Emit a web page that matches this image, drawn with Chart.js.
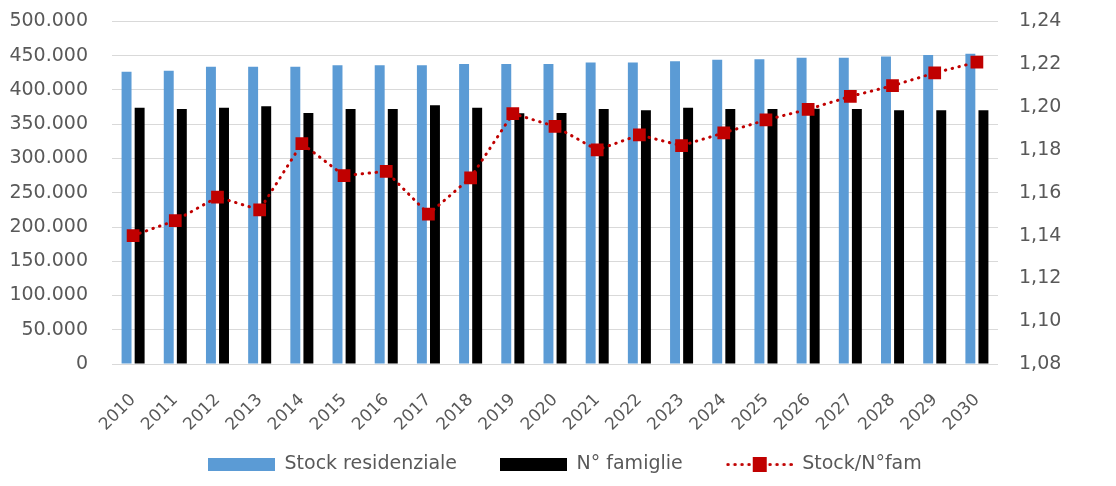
<!DOCTYPE html>
<html>
<head>
<meta charset="utf-8">
<script src="https://cdn.jsdelivr.net/npm/chart.js@4.4.1/dist/chart.umd.min.js"></script>
<style>
  html, body { margin: 0; padding: 0; background: #ffffff; }
  #wrap { width: 1116px; height: 486px; position: relative; }
  canvas { display: block; }
</style>
</head>
<body>
<div id="wrap"><canvas id="c" width="1116" height="486"></canvas></div>
<script>
const years = ["2010","2011","2012","2013","2014","2015","2016","2017","2018","2019","2020",
               "2021","2022","2023","2024","2025","2026","2027","2028","2029","2030"];
const stockResidenziale = [426700, 428200, 434000, 434000, 434000, 436000, 436000, 436000, 438000, 438000, 438000,
                           440000, 440000, 442000, 444000, 445000, 447000, 447000, 449000, 451000, 453000];
const nFamiglie = [374200, 372300, 374200, 376100, 366400, 372300, 372300, 377600, 374200, 366000, 366400,
                   372300, 370300, 374200, 372300, 372300, 372500, 372300, 370300, 370300, 370300];
const stockPerFam = [1.140, 1.147, 1.158, 1.152, 1.183, 1.168, 1.170, 1.150, 1.167, 1.197, 1.191,
                     1.180, 1.187, 1.182, 1.188, 1.194, 1.199, 1.205, 1.210, 1.216, 1.221];
const leftTicks = { min: 0, max: 500000, step: 50000 };
const rightTicks = { min: 1.08, max: 1.24, step: 0.02 };
const seriesNames = ["Stock residenziale", "N° famiglie", "Stock/N°fam"];

const BLUE = "#5B9BD5", BLACK = "#000000", RED = "#C00000", GRID = "#D9D9D9", TXT = "#595959";
const AXFONT = "'DejaVu Sans', sans-serif";

function fmtThousands(v) {
  return String(Math.round(v)).replace(/\B(?=(\d{3})+(?!\d))/g, ".");
}
function fmtDec(v) { return v.toFixed(2).replace(".", ","); }

function boxImg(color) {
  const c = document.createElement("canvas");
  c.width = 67; c.height = 13;
  const g = c.getContext("2d");
  g.fillStyle = color; g.fillRect(0, 0, 67, 13);
  return c;
}
function lineImg() {
  const c = document.createElement("canvas");
  c.width = 67; c.height = 15;
  const g = c.getContext("2d");
  g.strokeStyle = RED; g.lineWidth = 3; g.lineCap = "round";
  g.setLineDash([0.5, 6.5]);
  g.beginPath(); g.moveTo(2, 7.5); g.lineTo(66, 7.5); g.stroke();
  g.fillStyle = RED; g.fillRect(27, 0, 14, 15);
  return c;
}
const legendImgs = [boxImg(BLUE), boxImg(BLACK), lineImg()];

const layoutTweak = {
  id: "layoutTweak",
  afterLayout(chart) {
    const lg = chart.legend;
    if (lg) { lg.left = 165; }
    const x = chart.scales.x;
    if (x) { x.bottom = x.top + 90; }
  }
};

function noVPad(s) { s.paddingTop = 0; s.paddingBottom = 0; }

new Chart(document.getElementById("c"), {
  type: "bar",
  data: {
    labels: years,
    datasets: [
      { label: seriesNames[0], data: stockResidenziale, backgroundColor: BLUE, yAxisID: "y",
        categoryPercentage: 0.62, barPercentage: 0.76, order: 2 },
      { label: seriesNames[1], data: nFamiglie, backgroundColor: BLACK, yAxisID: "y",
        categoryPercentage: 0.62, barPercentage: 0.76, order: 3 },
      { type: "line", label: seriesNames[2], data: stockPerFam, yAxisID: "y1",
        borderColor: RED, backgroundColor: RED, borderWidth: 3, borderDash: [0.5, 6.5],
        borderCapStyle: "round", pointStyle: "rect", pointRadius: 9, pointHoverRadius: 9,
        pointBackgroundColor: RED, pointBorderColor: RED, pointBorderWidth: 0,
        tension: 0, order: 1 }
    ]
  },
  options: {
    responsive: false,
    animation: false,
    devicePixelRatio: 1,
    layout: { padding: { top: 21.5, bottom: 2, left: 0, right: 0 } },
    plugins: {
      tooltip: { enabled: false },
      legend: {
        position: "bottom",
        align: "start",
        labels: {
          usePointStyle: true,
          pointStyleWidth: 67,
          boxHeight: 13,
          padding: 43,
          color: TXT,
          font: { family: AXFONT, size: 19 },
          generateLabels(chart) {
            return chart.data.datasets.map((ds, i) => ({
              text: ds.label, pointStyle: legendImgs[i], fillStyle: "transparent",
              strokeStyle: "transparent", lineWidth: 0, fontColor: TXT, datasetIndex: i, hidden: false
            }));
          }
        }
      }
    },
    scales: {
      x: {
        grid: { display: false },
        border: { display: false },
        ticks: { color: TXT, font: { family: AXFONT, size: 17 }, minRotation: 45, maxRotation: 45, padding: 18, autoSkip: false },
        afterFit(s) { s.height = 48; }
      },
      y: {
        position: "left",
        min: leftTicks.min, max: leftTicks.max,
        grid: { color: GRID, lineWidth: 1, drawTicks: false },
        border: { display: false },
        ticks: { stepSize: leftTicks.step, color: TXT, font: { family: AXFONT, size: 19 }, padding: 24,
                 callback: v => fmtThousands(v) },
        afterFit(s) { s.width = 112; noVPad(s); }
      },
      y1: {
        position: "right",
        min: rightTicks.min, max: rightTicks.max,
        grid: { display: false, drawTicks: false },
        border: { display: false },
        ticks: { stepSize: rightTicks.step, color: TXT, font: { family: AXFONT, size: 19 }, padding: 21,
                 callback: v => fmtDec(v) },
        afterFit(s) { s.width = 118; noVPad(s); }
      }
    }
  },
  plugins: [layoutTweak]
});
</script>
</body>
</html>
